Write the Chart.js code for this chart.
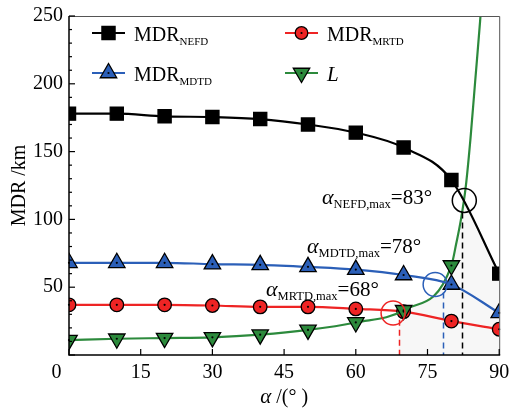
<!DOCTYPE html>
<html><head><meta charset="utf-8">
<script src="https://cdn.jsdelivr.net/npm/chart.js@4/dist/chart.umd.min.js"></script>
<style>html,body{margin:0;padding:0;background:#fff}#wrap{width:510px;height:408px;position:relative}</style>
</head><body><div id="wrap"><canvas id="c" width="510" height="408"></canvas></div>
<script>
// ---- data ----
const alphaDeg = [0, 10, 20, 30, 40, 50, 60, 70, 80, 90];
const mdrNEFD  = [178, 178, 176, 175.5, 174, 170, 164, 153, 129, 60];
const mdrMDTD  = [68, 68, 68, 67, 66.5, 65, 63, 59, 52, 31];
const mdrMRTD  = [37, 37, 37, 36.5, 35.5, 35.5, 34, 32, 25, 19];
const lAlpha   = [0, 10, 20, 30, 40, 50, 60, 70, 80, 81, 82, 83, 84, 85, 86, 87];
const lValues  = [11, 12, 12.5, 13, 15, 18.5, 24, 33, 66, 82, 100, 124, 160, 203, 246, 295];
const lMarkerAlpha = [0, 10, 20, 30, 40, 50, 60, 70, 80];
const xTicks = [0, 15, 30, 45, 60, 75, 90];
const yTicks = [0, 50, 100, 150, 200, 250];
const yMinorStep = 10;
// intersection annotations
const annName   = ['NEFD', 'MDTD', 'MRTD'];
const annAngle  = [83, 78, 68];
const annCircX  = [82.7, 76.6, 67.8];
const annCircY  = [114, 52, 31];
const annDashX  = [82.3, 78.3, 69];
const annDashTop= [105, 46, 26];
const shadeFrom = 69;

const FONT = "'Liberation Serif', 'Times New Roman', serif";
const cBlack = '#000000', cRed = '#ee2424', cBlue = '#2b5fb8', cGreen = '#2c8a3c';

const pts = (xs, ys) => xs.map((a, i) => ({x: a, y: ys[i]}));

function drawParts(ctx, x, y, parts) {
  let cx = x;
  for (const [t, s, it, dy] of parts) {
    ctx.font = (it ? 'italic ' : '') + s + 'px ' + FONT;
    ctx.fillText(t, cx, y + dy);
    cx += ctx.measureText(t).width;
  }
  return cx;
}

const deco = {
  id: 'deco',
  beforeDatasetsDraw(chart) {
    const {ctx, chartArea: a, scales: {x, y}} = chart;
    const mN = chart.getDatasetMeta(0), mL = chart.getDatasetMeta(2);
    ctx.save();
    const sx = x.getPixelForValue(shadeFrom);
    ctx.beginPath(); ctx.rect(sx, a.top, a.right - sx, a.bottom - a.top); ctx.clip();
    ctx.beginPath(); mL.dataset.path(ctx);
    let lp = mL.data;
    ctx.lineTo(lp[lp.length - 1].x, a.top - 50); ctx.lineTo(a.right + 5, a.top - 50); ctx.lineTo(a.right + 5, a.bottom);
    ctx.lineTo(lp[0].x, a.bottom); ctx.closePath(); ctx.clip();
    ctx.beginPath(); mN.dataset.path(ctx);
    lp = mN.data; ctx.lineTo(lp[lp.length - 1].x, a.bottom); ctx.lineTo(lp[0].x, a.bottom); ctx.closePath();
    ctx.fillStyle = 'rgba(0,0,0,0.03)'; ctx.fill();
    ctx.restore();
  },
  afterDatasetsDraw(chart) {
    const {ctx, chartArea: a, scales: {x, y}} = chart;
    ctx.save();
    ctx.fillStyle = '#000';
    [1, 2, 3].forEach(di => {
      chart.getDatasetMeta(di).data.forEach(p => {
        if (p.options.radius > 0) { ctx.beginPath(); ctx.arc(p.x, p.y, 1.1, 0, Math.PI * 2); ctx.fill(); }
      });
    });
    const cols = [cBlack, cBlue, cRed];
    for (let i = 0; i < annName.length; i++) {
      ctx.strokeStyle = cols[i]; ctx.lineWidth = 1.5;
      ctx.setLineDash([]);
      ctx.beginPath(); ctx.arc(x.getPixelForValue(annCircX[i]), y.getPixelForValue(annCircY[i]), 12, 0, Math.PI * 2); ctx.stroke();
      ctx.setLineDash([6, 4]);
      const dx = Math.round(x.getPixelForValue(annDashX[i])) + 0.5;
      ctx.beginPath(); ctx.moveTo(dx, y.getPixelForValue(annDashTop[i])); ctx.lineTo(dx, a.bottom); ctx.stroke();
    }
    ctx.restore();
  },
  afterDraw(chart) {
    const {ctx, chartArea: a, scales: {x, y}} = chart;
    ctx.save();
    ctx.strokeStyle = '#555'; ctx.lineWidth = 1;
    ctx.beginPath(); ctx.moveTo(a.left, a.top + 0.5); ctx.lineTo(a.right + 0.5, a.top + 0.5); ctx.lineTo(a.right + 0.5, a.bottom); ctx.stroke();
    ctx.strokeStyle = '#000'; ctx.lineWidth = 1.5;
    ctx.beginPath(); ctx.moveTo(a.left, a.top); ctx.lineTo(a.left, a.bottom); ctx.lineTo(a.right + 1, a.bottom); ctx.stroke();
    ctx.lineWidth = 1.2;
    y.ticks.forEach(t => { const py = y.getPixelForValue(t.value); ctx.beginPath(); ctx.moveTo(a.left, py); ctx.lineTo(a.left + 6, py); ctx.stroke(); });
    for (let v = y.min + yMinorStep; v < y.max; v += yMinorStep) {
      if (yTicks.includes(v)) continue;
      const py = y.getPixelForValue(v); ctx.beginPath(); ctx.moveTo(a.left, py); ctx.lineTo(a.left + 3, py); ctx.stroke();
    }
    x.ticks.forEach(t => { const px = x.getPixelForValue(t.value); ctx.beginPath(); ctx.moveTo(px, a.bottom); ctx.lineTo(px, a.bottom - 6); ctx.stroke(); });

    ctx.fillStyle = '#000'; ctx.textBaseline = 'alphabetic'; ctx.textAlign = 'left';
    const labelPos = [[a.left + 253, a.top + 188], [a.left + 238, a.top + 237], [a.left + 197, a.top + 280]];
    for (let i = 0; i < annName.length; i++) {
      drawParts(ctx, labelPos[i][0], labelPos[i][1], [['α', 22, true, 0], [annName[i] + ',max', 12.5, false, 4], ['=' + annAngle[i] + '°', 21, false, 0]]);
    }

    const rows = [a.top + 17, a.top + 57];
    const items = [
      {ds: 0, lx: a.left + 23, ly: rows[0], name: [['MDR', 20, false, 0], ['NEFD', 11, false, 4]]},
      {ds: 3, lx: a.left + 216, ly: rows[0], name: [['MDR', 20, false, 0], ['MRTD', 11, false, 4]]},
      {ds: 1, lx: a.left + 23, ly: rows[1], name: [['MDR', 20, false, 0], ['MDTD', 11, false, 4]]},
      {ds: 2, lx: a.left + 216, ly: rows[1], name: [['L', 21, true, 0]]}
    ];
    items.forEach(it => {
      const d = chart.data.datasets[it.ds];
      ctx.strokeStyle = d.borderColor; ctx.lineWidth = 2.2; ctx.setLineDash([]);
      ctx.beginPath(); ctx.moveTo(it.lx, it.ly); ctx.lineTo(it.lx + 33, it.ly); ctx.stroke();
      ctx.fillStyle = d.pointBackgroundColor; ctx.strokeStyle = '#000'; ctx.lineWidth = 1.3;
      Chart.helpers.drawPoint(ctx, {pointStyle: d.pointStyle, rotation: d.pointRotation || 0, radius: d.legendRadius, borderWidth: 1.3}, it.lx + 16.5, it.ly);
      if (it.ds !== 0) { ctx.fillStyle = '#000'; ctx.beginPath(); ctx.arc(it.lx + 16.5, it.ly, 1.1, 0, Math.PI * 2); ctx.fill(); }
      ctx.fillStyle = '#000';
      drawParts(ctx, it.lx + 42, it.ly + 8, it.name);
    });

    ctx.fillStyle = '#000';
    ctx.font = 'italic 21px ' + FONT; let w1 = ctx.measureText('α').width;
    ctx.font = '20px ' + FONT; w1 += ctx.measureText(' /(° )').width;
    drawParts(ctx, (a.left + a.right) / 2 - w1 / 2, 403, [['α', 21, true, 0], [' /(° )', 20, false, 0]]);
    ctx.save();
    ctx.translate(25, (a.top + a.bottom) / 2);
    ctx.rotate(-Math.PI / 2);
    ctx.font = '20px ' + FONT; ctx.textAlign = 'center';
    ctx.fillText('MDR /km', 0, 0);
    ctx.restore();
    ctx.restore();
  }
};

const common = {showLine: true, borderWidth: 2.2, pointBorderColor: '#000', pointBorderWidth: 1.3, cubicInterpolationMode: 'monotone', pointHoverRadius: 0};

new Chart(document.getElementById('c'), {
  type: 'scatter',
  data: {
    datasets: [
      Object.assign({}, common, {label: 'MDR_NEFD', data: pts(alphaDeg, mdrNEFD), borderColor: cBlack, pointBackgroundColor: cBlack, pointStyle: 'rect', pointRadius: 9.3, legendRadius: 9.3}),
      Object.assign({}, common, {label: 'MDR_MDTD', data: pts(alphaDeg, mdrMDTD), borderColor: cBlue, pointBackgroundColor: cBlue, pointStyle: 'triangle', pointRadius: 9.5, legendRadius: 9.5}),
      Object.assign({}, common, {label: 'L', data: pts(lAlpha, lValues), borderColor: cGreen, pointBackgroundColor: cGreen, pointStyle: 'triangle', pointRotation: 180, legendRadius: 9.5,
        pointRadius: ctx => lMarkerAlpha.includes(lAlpha[ctx.dataIndex]) ? 9.5 : 0}),
      Object.assign({}, common, {label: 'MDR_MRTD', data: pts(alphaDeg, mdrMRTD), borderColor: cRed, pointBackgroundColor: cRed, pointStyle: 'circle', pointRadius: 6.8, legendRadius: 6.3})
    ]
  },
  options: {
    responsive: false, animation: false, devicePixelRatio: 1,
    layout: {padding: {top: 16, right: 8, left: 0, bottom: 0}},
    plugins: {legend: {display: false}, tooltip: {enabled: false}},
    scales: {
      x: {type: 'linear', min: 0, max: 90,
        afterBuildTicks: s => { s.ticks = xTicks.map(v => ({value: v})); },
        afterFit: s => { s.height = 53; s.paddingLeft = 0; s.paddingRight = 0; },
        grid: {display: false, drawTicks: false}, border: {display: false},
        ticks: {padding: 6, color: '#000', font: {family: FONT, size: 20}, maxRotation: 0, autoSkip: false,
          callback: v => v === 0 ? '0     ' : String(v)}},
      y: {type: 'linear', min: 0, max: 250,
        afterBuildTicks: s => { s.ticks = yTicks.map(v => ({value: v})); },
        afterFit: s => { s.width = 69; s.paddingTop = 0; s.paddingBottom = 0; },
        grid: {display: false, drawTicks: false}, border: {display: false},
        ticks: {padding: 6, color: '#000', font: {family: FONT, size: 20}, autoSkip: false,
          callback: v => v === 0 ? '' : String(v)}}
    }
  },
  plugins: [deco]
});
</script></body></html>
